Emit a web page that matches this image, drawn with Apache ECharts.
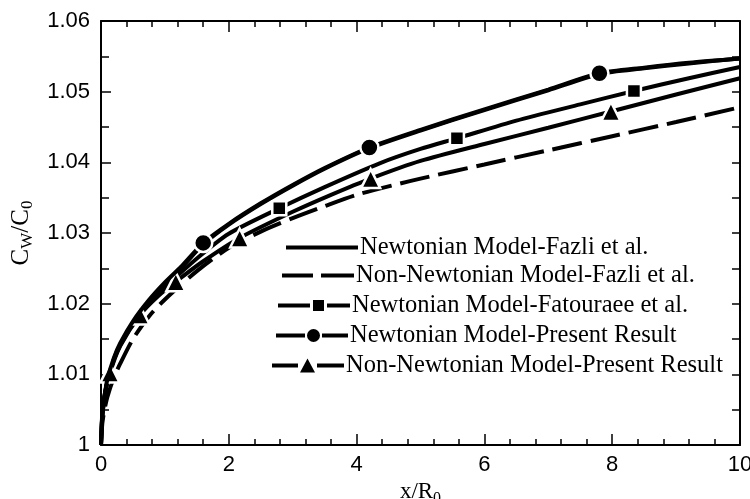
<!DOCTYPE html>
<html>
<head>
<meta charset="utf-8">
<title>Wall concentration along the channel</title>
<script src="https://cdn.jsdelivr.net/npm/echarts@6/dist/echarts.min.js"></script>
<style>
  html, body { margin: 0; padding: 0; background: #fff; }
  #chart { width: 750px; height: 499px; }
</style>
</head>
<body>
<div id="chart"></div>
<script>
// Axis ranges and tick steps
const xRange = [0, 10];
const xStep = 2;
const yRange = [1.0, 1.06];
const yStep = 0.01;

// Series names
const seriesNames = [
  'Newtonian Model-Fazli et al.',
  'Non-Newtonian Model-Fazli et al.',
  'Newtonian Model-Fatouraee et al.',
  'Newtonian Model-Present Result',
  'Non-Newtonian Model-Present Result'
];

// Newtonian model, Fazli et al. (solid)
const fazliNewtX = [0, 0.02, 0.05, 0.1, 0.2, 0.3, 0.5, 0.75, 1.0, 1.25, 1.6, 2.0, 2.5, 3.0, 3.5, 4.2, 5.0, 6.0, 7.0, 7.8, 8.5, 9.2, 10];
const fazliNewtY = [1.0, 1.0040, 1.0064, 1.0091, 1.0121, 1.0142, 1.0173, 1.0203, 1.0228, 1.0250, 1.0284, 1.0312, 1.0341, 1.0367, 1.0391, 1.0420, 1.0445, 1.0474, 1.0502, 1.0525, 1.0533, 1.0540, 1.0547];

// Non-Newtonian model, Fazli et al. (dashed)
const fazliNonNewtX = [0, 0.02, 0.05, 0.1, 0.2, 0.3, 0.5, 0.75, 1.0, 1.5, 2.0, 2.5, 3.0, 3.5, 4.0, 4.68, 5.0, 6.0, 7.0, 8.0, 9.0, 10];
const fazliNonNewtY = [1.0, 1.0030, 1.0048, 1.0068, 1.0095, 1.0115, 1.0150, 1.0182, 1.0206, 1.0246, 1.0279, 1.0302, 1.0321, 1.0338, 1.0354, 1.0370, 1.0377, 1.0397, 1.0417, 1.0437, 1.0457, 1.0478];

// Newtonian model, Fatouraee et al. (squares)
const fatourX = [0, 0.02, 0.05, 0.1, 0.2, 0.3, 0.5, 0.75, 1.0, 1.5, 2.0, 2.79, 3.5, 4.37, 5.0, 5.57, 6.5, 7.5, 8.34, 9.2, 10];
const fatourY = [1.0, 1.0040, 1.0063, 1.0090, 1.0120, 1.0141, 1.0171, 1.0200, 1.0223, 1.0264, 1.0299, 1.0335, 1.0365, 1.0399, 1.0419, 1.0434, 1.0459, 1.0482, 1.0501, 1.0519, 1.0535];
const fatourMarks = [2.79, 5.57, 8.34];

// Newtonian model, present result (circles)
const presNewtX = [0, 0.02, 0.05, 0.1, 0.2, 0.3, 0.5, 0.75, 1.0, 1.25, 1.6, 2.0, 2.5, 3.0, 3.5, 4.2, 5.0, 6.0, 7.0, 7.8, 8.5, 9.2, 10];
const presNewtY = [1.0, 1.0042, 1.0066, 1.0093, 1.0123, 1.0144, 1.0175, 1.0205, 1.0230, 1.0252, 1.0286, 1.0313, 1.0342, 1.0368, 1.0392, 1.0421, 1.0446, 1.0475, 1.0503, 1.0526, 1.0534, 1.0541, 1.0547];
const presNewtMarks = [1.6, 4.2, 7.8];

// Non-Newtonian model, present result (triangles)
const presNonNewtX = [0, 0.02, 0.05, 0.14, 0.3, 0.61, 0.9, 1.17, 1.6, 2.17, 3.0, 3.6, 4.22, 5.0, 6.0, 7.0, 7.98, 9.0, 10];
const presNonNewtY = [1.0, 1.0045, 1.0068, 1.0102, 1.0140, 1.0184, 1.0211, 1.0231, 1.0260, 1.0293, 1.0330, 1.0354, 1.0377, 1.0402, 1.0426, 1.0449, 1.0472, 1.0496, 1.0519];
const presNonNewtMarks = [0.14, 0.61, 1.17, 2.17, 4.22, 7.98];

const serif = "'Liberation Serif', 'Times New Roman', serif";
const sans = "'Liberation Sans', Arial, sans-serif";

// Pair up x/y arrays; only the listed x positions carry a symbol
function points(xs, ys, marks) {
  return xs.map((x, i) => {
    if (marks && marks.includes(x)) return [x, ys[i]];
    return { value: [x, ys[i]], symbol: 'none' };
  });
}

function curve(name, data, extra) {
  return Object.assign({
    name: name,
    type: 'line',
    data: data,
    smooth: 0.25,
    showSymbol: true,
    showAllSymbol: true,
    symbol: 'none',
    lineStyle: { color: '#000', width: 4, type: 'solid' },
    itemStyle: { color: '#000' },
    emphasis: { disabled: true },
    z: 2
  }, extra);
}

const markerStyle = { color: '#000', borderColor: '#fff', borderWidth: 2.5 };

const series = [
  curve(seriesNames[1], points(fazliNonNewtX, fazliNonNewtY), {
    lineStyle: { color: '#000', width: 4, type: [30, 9] }
  }),
  curve(seriesNames[0], points(fazliNewtX, fazliNewtY)),
  curve(seriesNames[2], points(fatourX, fatourY, fatourMarks), {
    symbol: 'rect', symbolSize: 14, itemStyle: markerStyle, z: 3
  }),
  curve(seriesNames[4], points(presNonNewtX, presNonNewtY, presNonNewtMarks), {
    symbol: 'triangle', symbolSize: 19, itemStyle: markerStyle, z: 3
  }),
  curve(seriesNames[3], points(presNewtX, presNewtY, presNewtMarks), {
    symbol: 'circle', symbolSize: 18, itemStyle: markerStyle, z: 4
  })
];

// Legend keys: line sample with the series symbol in the middle (72 x 16 box)
const keySolid = 'path://M0,6H72V10H0Z';
const keyDashed = 'path://M0,6H31V10H0Z M39,6H72V10H39Z';
const keySquare = 'path://M0,6H32V10H0Z M35,2.5H46V13.5H35Z M49,6H72V10H49Z';
const keyCircle = 'path://M0,6H29V10H0Z M31,8a6.5,6.5 0 1,0 13,0a6.5,6.5 0 1,0 -13,0Z M46,6H72V10H46Z';
const keyTriangle = 'path://M0,6H26V10H0Z M28,15L35.5,1L43,15Z M45,6H72V10H45Z';

// One legend block per row so each row can sit at its own offset
const legendRows = [
  { name: seriesNames[0], left: 286, top: 235, icon: keySolid },
  { name: seriesNames[1], left: 282, top: 263, icon: keyDashed },
  { name: seriesNames[2], left: 278, top: 293, icon: keySquare },
  { name: seriesNames[3], left: 276, top: 323, icon: keyCircle },
  { name: seriesNames[4], left: 272, top: 353, icon: keyTriangle }
];

const legends = legendRows.map(r => ({
  data: [{ name: r.name, icon: r.icon }],
  left: r.left,
  top: r.top,
  orient: 'vertical',
  padding: 0,
  itemWidth: 72,
  itemHeight: 16,
  itemGap: 0,
  selectedMode: false,
  itemStyle: { color: '#000', borderWidth: 0 },
  textStyle: { fontFamily: serif, fontSize: 24.5, color: '#000', lineHeight: 24, padding: [0, 0, 0, -3] }
}));

const axisLine = { show: true, onZero: false, lineStyle: { color: '#000', width: 2 } };

const option = {
  animation: false,
  backgroundColor: '#fff',
  grid: { left: 101, right: 10, top: 21, bottom: 54, containLabel: false, outerBoundsMode: 'none' },
  legend: legends,
  xAxis: [
    {
      type: 'value', position: 'bottom',
      min: xRange[0], max: xRange[1], interval: xStep,
      axisLine: axisLine,
      axisTick: { show: true, inside: true, length: 11, lineStyle: { color: '#000', width: 1.5 } },
      minorTick: { show: true, splitNumber: 5, length: 6, lineStyle: { color: '#000', width: 1.5 } },
      splitLine: { show: false },
      axisLabel: { margin: 9, fontFamily: sans, fontSize: 22, color: '#000' },
      name: '{i|x/R}{s|0}',
      nameLocation: 'middle',
      nameGap: 27,
      nameTextStyle: {
        rich: {
          i: { fontFamily: serif, fontSize: 23, color: '#000', lineHeight: 28 },
          s: { fontFamily: serif, fontSize: 16, color: '#000', lineHeight: 15, verticalAlign: 'bottom' }
        }
      }
    },
    {
      type: 'value', position: 'top',
      min: xRange[0], max: xRange[1], interval: xStep,
      axisLine: axisLine,
      axisTick: { show: true, inside: true, length: 11, lineStyle: { color: '#000', width: 1.5 } },
      minorTick: { show: true, splitNumber: 5, length: 6, lineStyle: { color: '#000', width: 1.5 } },
      splitLine: { show: false },
      axisLabel: { show: false }
    }
  ],
  yAxis: [
    {
      type: 'value', position: 'left',
      min: yRange[0], max: yRange[1], interval: yStep,
      axisLine: axisLine,
      axisTick: { show: true, inside: true, length: 10, lineStyle: { color: '#000', width: 1.5 } },
      minorTick: { show: true, splitNumber: 2, length: 8, lineStyle: { color: '#000', width: 1.5 } },
      splitLine: { show: false },
      axisLabel: { margin: 11, fontFamily: sans, fontSize: 22, color: '#000' },
      name: '{i|C}{s|W}{i|/C}{s|0}',
      nameLocation: 'middle',
      nameRotate: 90,
      nameGap: 64,
      nameTextStyle: {
        rich: {
          i: { fontFamily: serif, fontSize: 25, color: '#000', lineHeight: 30 },
          s: { fontFamily: serif, fontSize: 17, color: '#000', lineHeight: 16, verticalAlign: 'bottom' }
        }
      }
    },
    {
      type: 'value', position: 'right',
      min: yRange[0], max: yRange[1], interval: yStep,
      axisLine: axisLine,
      axisTick: { show: true, inside: true, length: 8, lineStyle: { color: '#000', width: 1.5 } },
      minorTick: { show: true, splitNumber: 2, length: 8, lineStyle: { color: '#000', width: 1.5 } },
      splitLine: { show: false },
      axisLabel: { show: false }
    }
  ],
  series: series
};

const chart = echarts.init(document.getElementById('chart'), null, { renderer: 'canvas' });
chart.setOption(option);
</script>
</body>
</html>
